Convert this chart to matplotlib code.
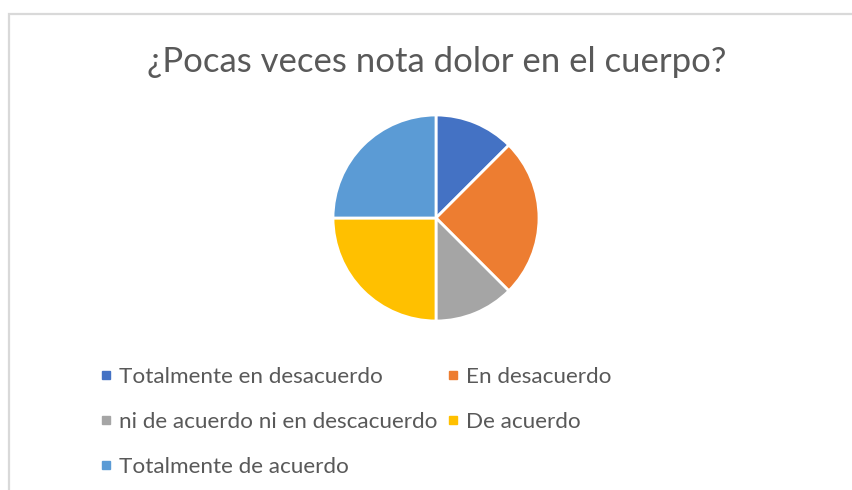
import matplotlib
matplotlib.use("Agg")
import matplotlib.pyplot as plt
from matplotlib.patches import Rectangle
from matplotlib.lines import Line2D

plt.rcParams['font.family'] = ['Lato', 'DejaVu Sans']

title = "¿Pocas veces nota dolor en el cuerpo?"
categories = [
    "Totalmente en desacuerdo",
    "En desacuerdo",
    "ni de acuerdo ni en descacuerdo",
    "De acuerdo",
    "Totalmente de acuerdo",
]
values = [1, 2, 1, 2, 2]
colors = ["#4472C4", "#ED7D31", "#A5A5A5", "#FFC000", "#5B9BD5"]
text_color = "#595959"

W, H = 852, 490
fig = plt.figure(figsize=(W / 100, H / 100), dpi=100)
fig.patch.set_facecolor("white")

# chart-area frame (top and left edges visible)
fig.patches.append(Rectangle((8.5 / W, -0.05), 1.1, (H - 14) / H + 0.05,
                             transform=fig.transFigure, fill=False,
                             edgecolor="#d9d9d9", linewidth=1.6))

fig.text(437 / W, 1 - 62 / H, title, ha="center", va="center",
         fontsize=25, color=text_color)

cx, cy, r = 436, 218, 103
ax = fig.add_axes([(cx - r) / W, (H - cy - r) / H, 2 * r / W, 2 * r / H])
ax.pie(values, colors=colors, startangle=90, counterclock=False,
       radius=1, wedgeprops=dict(edgecolor="white", linewidth=2))
ax.set_xlim(-1.0, 1.0)
ax.set_ylim(-1.0, 1.0)
ax.axis("off")

handles = [Line2D([], [], marker="s", linestyle="none", markersize=5.5,
                  color=c, label=l) for c, l in zip(colors, categories)]
order = [0, 2, 4, 1, 3]
leg = fig.legend([handles[i] for i in order], [categories[i] for i in order],
                 ncol=2, loc="upper left",
                 bbox_to_anchor=(101 / W, 1 - 367 / H),
                 frameon=False, fontsize=16.2, labelcolor=text_color,
                 handlelength=0.45, handletextpad=0.35, columnspacing=0.45,
                 labelspacing=1.1, borderpad=0, borderaxespad=0)

fig.savefig("out.png", dpi=100)
